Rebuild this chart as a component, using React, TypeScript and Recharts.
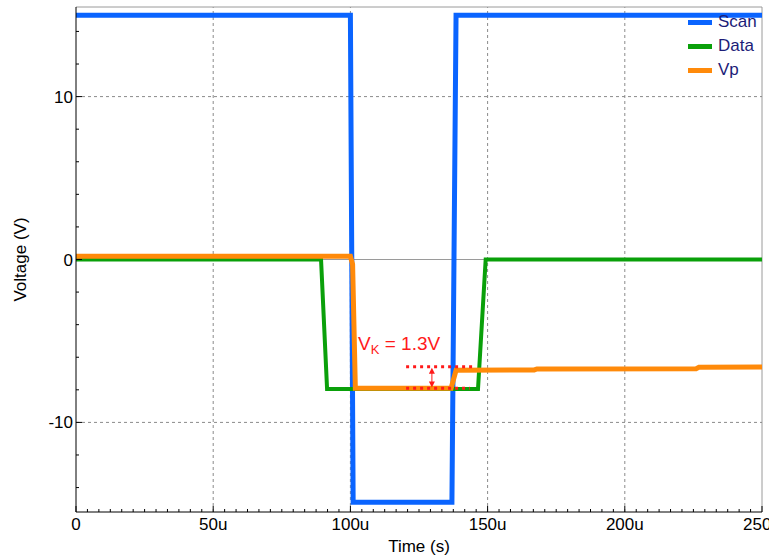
import { Line, LineChart, ReferenceDot, ReferenceLine, XAxis, YAxis } from 'recharts';

// time in microseconds, voltage in V
const scanData = [
  { t: 0, v: 15 },
  { t: 100, v: 15 },
  { t: 101, v: -14.9 },
  { t: 137, v: -14.9 },
  { t: 138.5, v: 15 },
  { t: 250, v: 15 },
];

const dataData = [
  { t: 0, v: 0 },
  { t: 89.3, v: 0 },
  { t: 91.5, v: -7.95 },
  { t: 146.5, v: -7.95 },
  { t: 149.3, v: 0 },
  { t: 250, v: 0 },
];

const vpData = [
  { t: 0, v: 0.2 },
  { t: 100, v: 0.2 },
  { t: 100.8, v: -0.3 },
  { t: 101.8, v: -7.9 },
  { t: 136.7, v: -7.9 },
  { t: 138.5, v: -6.8 },
  { t: 167, v: -6.78 },
  { t: 168, v: -6.72 },
  { t: 226, v: -6.7 },
  { t: 227, v: -6.62 },
  { t: 250, v: -6.6 },
];

const xTicks = Array.from({ length: 61 }, (_, i) => (i * 250) / 60);
const yTicks = [-14, -12, -10, -8, -6, -4, -2, 0, 2, 4, 6, 8, 10, 12, 14];
const xMajor = [0, 50, 100, 150, 200, 250];
const yMajor = [-10, 0, 10];

const FONT = '"Liberation Sans", Arial, sans-serif';
const BLUE = '#0a64ff';
const GREEN = '#0aa00a';
const ORANGE = '#ff8a0a';
const RED = '#ff1a1a';

const isMajorX = (v: number) => xMajor.some(m => Math.abs(m - v) < 1e-6);

function XTick({ x, y, payload }: any) {
  const major = isMajorX(payload.value);
  const v = Math.round(payload.value);
  return (
    <g>
      <line x1={x} x2={x} y1={y} y2={y - (major ? 6 : 3)} stroke="#000" />
      {major && (
        <text x={x} y={y + 18} textAnchor="middle" fontSize={17} fontFamily={FONT} fill="#000">
          {v === 0 ? '0' : `${v}u`}
        </text>
      )}
    </g>
  );
}

function YTick({ x, y, payload }: any) {
  const major = yMajor.includes(payload.value);
  return (
    <g>
      <line x1={x} x2={x + (major ? 6 : 3)} y1={y} y2={y} stroke="#000" />
      {major && (
        <text x={x - 3} y={y + 6} textAnchor="end" fontSize={17} fontFamily={FONT} fill="#000">
          {payload.value}
        </text>
      )}
    </g>
  );
}

const legendItems = [
  { name: 'Scan', color: BLUE },
  { name: 'Data', color: GREEN },
  { name: 'Vp', color: ORANGE },
];

function LegendBox() {
  return (
    <div style={{ position: 'absolute', left: 688, top: 10, fontFamily: FONT }}>
      {legendItems.map(it => (
        <div key={it.name} style={{ display: 'flex', alignItems: 'center', height: 24 }}>
          <div style={{ width: 24, height: 5, background: it.color, marginRight: 6 }} />
          <span style={{ fontSize: 17, color: '#1c1c78' }}>{it.name}</span>
        </div>
      ))}
    </div>
  );
}

function ArrowShape(props: any) {
  const { x1, y1, x2, y2 } = props;
  const top = Math.min(y1, y2);
  const bot = Math.max(y1, y2);
  return (
    <g>
      <line x1={x1} x2={x2} y1={top + 4} y2={bot - 4} stroke={RED} strokeWidth={1} />
      <polygon points={`${x1},${top} ${x1 - 3},${top + 6} ${x1 + 3},${top + 6}`} fill={RED} />
      <polygon points={`${x1},${bot} ${x1 - 3},${bot - 6} ${x1 + 3},${bot - 6}`} fill={RED} />
    </g>
  );
}

function VkLabel(props: any) {
  const { cx, cy } = props;
  return (
    <text x={cx} y={cy} fontSize={19} fontFamily={FONT} fill={RED}>
      V
      <tspan fontSize={13} dy={4}>K</tspan>
      <tspan dy={-4}> = 1.3V</tspan>
    </text>
  );
}

export default function App() {
  return (
    <div style={{ position: 'absolute', left: 0, top: 0, width: 769, height: 558 }}>
      <LineChart width={769} height={558} margin={{ top: 7, right: 7, left: 0, bottom: 0 }}>
        <XAxis
          type="number"
          dataKey="t"
          domain={[0, 250]}
          ticks={xTicks}
          interval={0}
          tick={<XTick />}
          tickSize={0}
          tickMargin={0}
          tickLine={false}
          height={46}
          axisLine={{ stroke: '#000' }}
          allowDuplicatedCategory={false}
          label={{ value: 'Time (s)', position: 'insideBottom', offset: 6, fontSize: 17, fontFamily: FONT, fill: '#000' }}
        />
        <YAxis
          type="number"
          dataKey="v"
          domain={[-15.5, 15.5]}
          ticks={yTicks}
          interval={0}
          tick={<YTick />}
          tickSize={0}
          tickMargin={0}
          tickLine={false}
          width={76}
          axisLine={{ stroke: '#000' }}
          label={{ value: 'Voltage (V)', angle: -90, position: 'insideLeft', offset: 20, fontSize: 17, fontFamily: FONT, fill: '#000', style: { textAnchor: 'middle' } }}
        />
        {[50, 100, 150, 200].map(x => (
          <ReferenceLine key={`gx${x}`} x={x} stroke="#8a8a8a" strokeDasharray="3 3" />
        ))}
        <ReferenceLine x={250} stroke="#9a9a9a" />
        <ReferenceLine y={15.5} stroke="#9a9a9a" />
        <ReferenceLine y={10} stroke="#8a8a8a" strokeDasharray="3 3" />
        <ReferenceLine y={-10} stroke="#8a8a8a" strokeDasharray="3 3" />
        <ReferenceLine y={0} stroke="#9a9a9a" />
        <Line data={scanData} dataKey="v" name="Scan" stroke={BLUE} strokeWidth={5} dot={false} isAnimationActive={false} type="linear" />
        <Line data={dataData} dataKey="v" name="Data" stroke={GREEN} strokeWidth={4} dot={false} isAnimationActive={false} type="linear" />
        <Line data={vpData} dataKey="v" name="Vp" stroke={ORANGE} strokeWidth={5} dot={false} isAnimationActive={false} type="linear" />
        <ReferenceLine
          segment={[{ x: 120.3, y: -6.58 }, { x: 145.5, y: -6.58 }]}
          stroke={RED}
          strokeWidth={3}
          strokeDasharray="3 4"
        />
        <ReferenceLine
          segment={[{ x: 120.3, y: -7.9 }, { x: 143.5, y: -7.9 }]}
          stroke={RED}
          strokeWidth={3}
          strokeDasharray="3 4"
        />
        <ReferenceLine segment={[{ x: 129.7, y: -6.65 }, { x: 129.7, y: -7.85 }]} shape={<ArrowShape />} />
        <ReferenceDot x={102.8} y={-5.55} r={0} shape={<VkLabel />} />
      </LineChart>
      <LegendBox />
    </div>
  );
}
